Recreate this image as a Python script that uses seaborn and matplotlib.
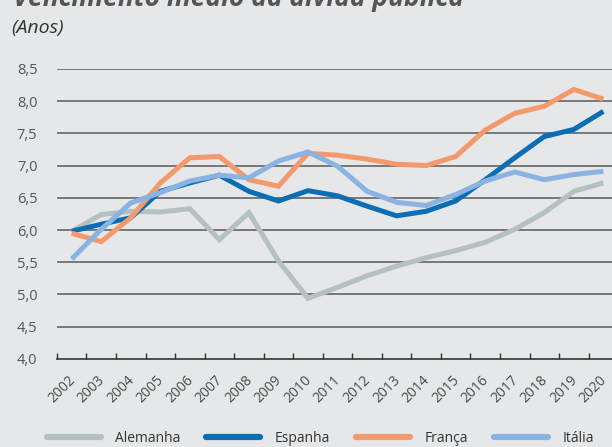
import pandas as pd
import numpy as np
import seaborn as sb
import matplotlib.pyplot as plt
import matplotlib.transforms as mtrans
from matplotlib.ticker import FixedLocator, FuncFormatter

# anos e series (vencimento medio, anos)
anos = [str(a) for a in range(2002, 2021)]
alemanha = [5.98, 6.24, 6.29, 6.28, 6.33, 5.85, 6.27, 5.52, 4.94, 5.11, 5.29, 5.44,
            5.57, 5.68, 5.81, 6.01, 6.27, 6.60, 6.73]
espanha = [5.98, 6.09, 6.19, 6.60, 6.73, 6.85, 6.60, 6.45, 6.61, 6.53, 6.37, 6.22,
           6.29, 6.45, 6.78, 7.12, 7.45, 7.56, 7.84]
franca = [5.95, 5.82, 6.19, 6.73, 7.12, 7.14, 6.78, 6.68, 7.19, 7.16, 7.10, 7.02,
          7.00, 7.14, 7.55, 7.81, 7.92, 8.18, 8.03]
italia = [5.55, 6.01, 6.42, 6.58, 6.76, 6.85, 6.81, 7.07, 7.21, 6.99, 6.60, 6.43,
          6.38, 6.55, 6.76, 6.90, 6.78, 6.86, 6.91]
paises = ["Alemanha", "Espanha", "França", "Itália"]
cores = {"Alemanha": "#b5c0c1", "Espanha": "#0b6eb5", "França": "#f4996b", "Itália": "#8ab2e2"}

# long-form table
df = pd.DataFrame({
    "ano": list(range(len(anos))) * 4,
    "valor": alemanha + espanha + franca + italia,
    "pais": sum([[p] * len(anos) for p in paises], []),
})

bg = "#e6e7e8"
plt.rcParams['font.family'] = ['Open Sans', 'DejaVu Sans']

fig = plt.figure(figsize=(6.12, 4.47), dpi=100, facecolor=bg)
ax = fig.add_axes([0.093, 0.197, 0.917, 0.649])
ax.set_facecolor(bg)

sb.lineplot(data=df, x="ano", y="valor", hue="pais", hue_order=paises, palette=cores,
            linewidth=3.6, ax=ax, legend=True)
for ln in ax.lines:
    ln.set_solid_capstyle('butt')
    ln.set_solid_joinstyle('miter')

ax.set_xlim(-0.5, len(anos) - 0.5)
ax.set_ylim(4.0, 8.5)

# horizontal grid
ax.set_yticks(np.arange(4.0, 8.51, 0.5))
ax.yaxis.set_major_formatter(FuncFormatter(lambda v, p: f"{v:.1f}".replace(".", ",")))
for v in np.arange(4.5, 8.51, 0.5):
    ax.axhline(v, color="#5a5a5a", linewidth=1.1, zorder=0)
ax.tick_params(axis='y', length=0, pad=14, labelsize=10.5, labelcolor="#555555")

# x ticks: marks between years, labels at years
ax.set_xticks(range(len(anos)))
ax.set_xticklabels(anos, rotation=45, ha='right', rotation_mode='anchor')
ax.tick_params(axis='x', length=0, pad=10, labelsize=10, labelcolor="#4a4a4a")
ax.xaxis.set_minor_locator(FixedLocator(np.arange(-0.5, len(anos), 1.0)))
ax.tick_params(axis='x', which='minor', direction='in', length=4, width=1, color="#333333")
# nudge year labels a little to the left so 2020 stays inside
shift = mtrans.ScaledTranslation(-4 / 100, 0, fig.dpi_scale_trans)
for lab in ax.get_xticklabels():
    lab.set_transform(lab.get_transform() + shift)

for s in ["top", "right", "left"]:
    ax.spines[s].set_visible(False)
ax.spines["bottom"].set_color("#333333")
ax.spines["bottom"].set_linewidth(1.2)
ax.set_xlabel("")
ax.set_ylabel("")

# legend at the bottom
handles, labels = ax.get_legend_handles_labels()
ax.get_legend().remove()
leg = fig.legend(handles, labels, loc='lower center', bbox_to_anchor=(0.523, -0.025), ncol=4,
                 frameon=False, fontsize=10, handlelength=3.9, handletextpad=1.0,
                 columnspacing=1.9)
for h in leg.get_lines():
    h.set_linewidth(4.5)
    h.set_solid_capstyle('round')
for t in leg.get_texts():
    t.set_color("#333333")

# titles (main one partly cut off at the top, as in the original)
fig.text(0.022, 1.003, "Vencimento médio da dívida pública", fontsize=19, fontweight='bold',
         style='italic', color="#555555", va='center', ha='left')
fig.text(0.018, 0.937, "(Anos)", fontsize=14, style='italic', color="#333333",
         va='center', ha='left')

plt.savefig("out.png", dpi=100, facecolor=bg)
